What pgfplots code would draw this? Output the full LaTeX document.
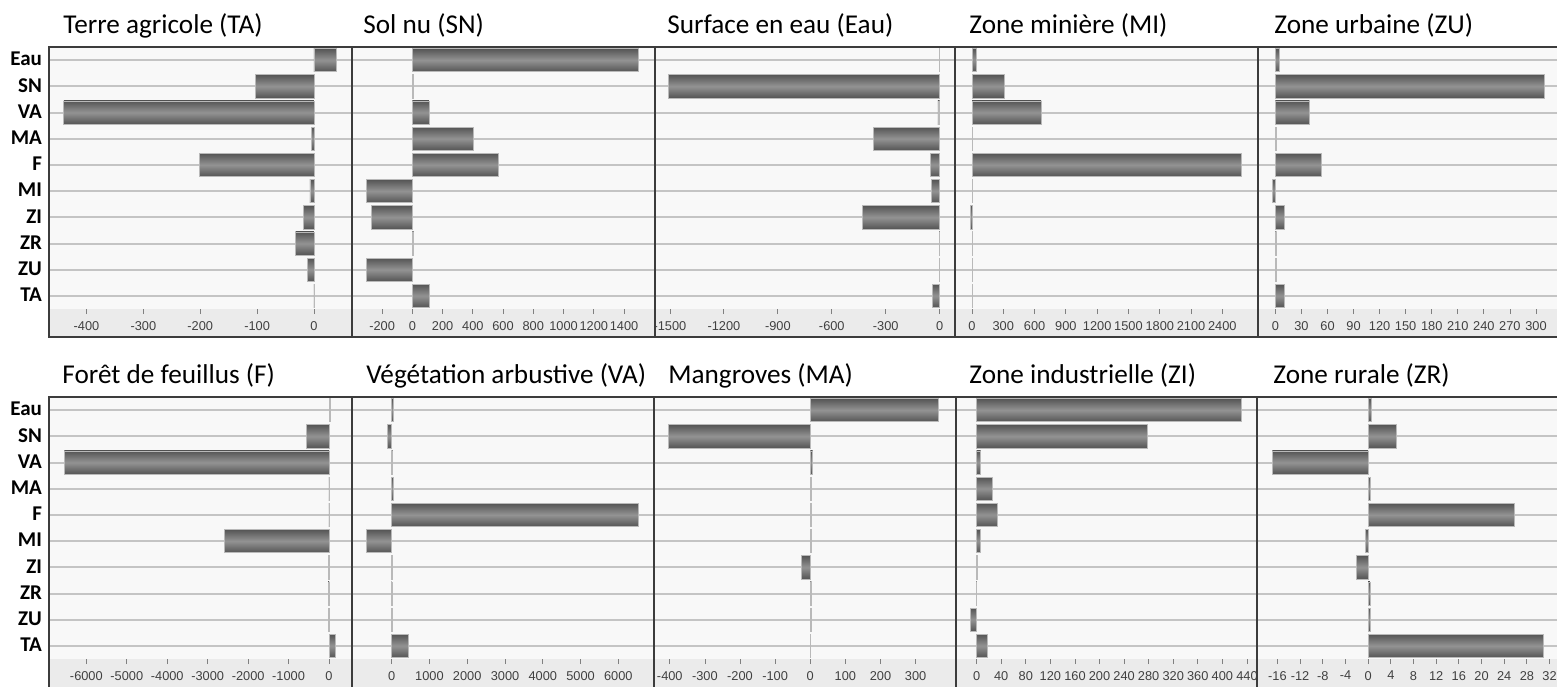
\documentclass[border=0pt]{standalone}
\usepackage{pgfplots}
\pgfplotsset{compat=1.18}
\usepackage{fontspec}
\setmainfont{Carlito}
\newfontfamily\tickfont{Liberation Sans}

\definecolor{plotbg}{HTML}{F8F8F8}
\definecolor{bandbg}{HTML}{EBEBEB}
\definecolor{gridgray}{HTML}{C4C4C4}
\definecolor{framecol}{HTML}{3C3C3C}
\definecolor{barDark}{HTML}{555555}
\definecolor{barLight}{HTML}{939393}
\definecolor{tickgray}{HTML}{404040}

\pgfplotsset{
  panel/.style={
    scale only axis, height=131pt, anchor=north west,
    xbar, bar width=0.88,
    y dir=reverse, ymin=-0.5, ymax=9.5, ytick={0,...,9},
    yticklabels={Eau,SN,VA,MA,F,MI,ZI,ZR,ZU,TA},
    ymajorgrids, grid style={line width=1pt, gridgray},
    major y tick style={draw=none},
    axis line style={draw=none},
    axis background/.style={fill=plotbg},
    xtick pos=left, tick align=outside, major tick length=2.5pt,
    major x tick style={gray, line width=0.4pt},
    xticklabel style={font=\tickfont\fontsize{6.4}{7}\selectfont, text=tickgray},
    yticklabel style={font=\bfseries\fontsize{10.5}{11}\selectfont,
      xshift=2.5pt, yshift=0.5pt},
    scaled x ticks=false,
    /pgf/number format/1000 sep={},
    /pgf/number format/assume math mode=true,
  },
  nolabels/.style={yticklabels={}},
  bars/.style={/pgf/bar shift=0pt, draw=gray!55, line width=0.3pt,
    top color=barDark, bottom color=barDark, middle color=barLight},
}
% one bar per plot, so that each bar gets its own shading
\newcommand{\hb}[2]{\addplot[bars] coordinates {(#1,#2)};}

\begin{document}
\begin{tikzpicture}
\useasboundingbox (0,0) rectangle (778.5pt,-343pt);

% tick label bands
\begin{scope}[x=0.5pt, y=-0.5pt]
  \fill[bandbg] (49,309) rectangle (1562,337);
  \fill[bandbg] (49,659) rectangle (1562,690);
\end{scope}

% ---- top row ----
% Terre agricole (TA)
\begin{axis}[panel, at={(24.5pt,-23.5pt)}, width=151.5pt,
    xmin=-466, xmax=67, xtick={-400,-300,...,0}]
  \hb{39}{0}\hb{-103}{1}\hb{-440}{2}\hb{-5}{3}\hb{-202}{4}
  \hb{-7}{5}\hb{-19}{6}\hb{-32}{7}\hb{-12}{8}\hb{1}{9}
\end{axis}
% Sol nu (SN)
\begin{axis}[panel, nolabels, at={(176pt,-23.5pt)}, width=151.5pt,
    xmin=-399, xmax=1605, xtick={-200,0,...,1400}]
  \hb{1495}{0}\hb{9}{1}\hb{110}{2}\hb{401}{3}\hb{571}{4}
  \hb{-302}{5}\hb{-273}{6}\hb{8}{7}\hb{-302}{8}\hb{110}{9}
\end{axis}
% Surface en eau (Eau)
\begin{axis}[panel, nolabels, at={(327.5pt,-23.5pt)}, width=150pt,
    xmin=-1583, xmax=85, xtick={-1500,-1200,...,0}]
  \hb{-3}{0}\hb{-1508}{1}\hb{-10}{2}\hb{-369}{3}\hb{-54}{4}
  \hb{-47}{5}\hb{-428}{6}\hb{-3}{7}\hb{-3}{8}\hb{-41}{9}
\end{axis}
% Zone miniere (MI)
\begin{axis}[panel, nolabels, at={(477.5pt,-23.5pt)}, width=151.5pt,
    xmin=-163, xmax=2742, xtick={0,300,...,2400}]
  \hb{38}{0}\hb{307}{1}\hb{662}{2}\hb{5}{3}\hb{2579}{4}
  \hb{3}{5}\hb{-12}{6}\hb{4}{7}\hb{4}{8}\hb{3}{9}
\end{axis}
% Zone urbaine (ZU)
\begin{axis}[panel, nolabels, at={(629pt,-23.5pt)}, width=152pt,
    xmin=-20, xmax=330, xtick={0,30,...,300}]
  \hb{5}{0}\hb{310}{1}\hb{39}{2}\hb{1}{3}\hb{53}{4}
  \hb{-3}{5}\hb{10}{6}\hb{1}{7}\hb{1}{8}\hb{10}{9}
\end{axis}

% ---- bottom row ----
% Foret de feuillus (F)
\begin{axis}[panel, at={(24.5pt,-198.5pt)}, width=151.5pt,
    xmin=-6924, xmax=569, xtick={-6000,-5000,...,0}]
  \hb{25}{0}\hb{-552}{1}\hb{-6545}{2}\hb{-5}{3}\hb{-5}{4}
  \hb{-2589}{5}\hb{-20}{6}\hb{-20}{7}\hb{-20}{8}\hb{148}{9}
\end{axis}
% Vegetation arbustive (VA)
\begin{axis}[panel, nolabels, at={(176pt,-198.5pt)}, width=151pt,
    xmin=-1051, xmax=6945, xtick={0,1000,...,6000}]
  \hb{30}{0}\hb{-106}{1}\hb{25}{2}\hb{30}{3}\hb{6529}{4}
  \hb{-662}{5}\hb{25}{6}\hb{5}{7}\hb{5}{8}\hb{432}{9}
\end{axis}
% Mangroves (MA)
\begin{axis}[panel, nolabels, at={(327pt,-198.5pt)}, width=151pt,
    xmin=-445, xmax=415, xtick={-400,-300,...,300}]
  \hb{366}{0}\hb{-403}{1}\hb{7}{2}\hb{4}{3}\hb{3}{4}
  \hb{3}{5}\hb{-25}{6}\hb{3}{7}\hb{3}{8}\hb{1}{9}
\end{axis}
% Zone industrielle (ZI)
\begin{axis}[panel, nolabels, at={(478.5pt,-198.5pt)}, width=150.5pt,
    xmin=-32, xmax=458, xtick={0,40,...,440}]
  \hb{430}{0}\hb{278}{1}\hb{6.5}{2}\hb{25}{3}\hb{33}{4}
  \hb{6.5}{5}\hb{1}{6}\hb{-1}{7}\hb{-10}{8}\hb{18}{9}
\end{axis}
% Zone rurale (ZR)
\begin{axis}[panel, nolabels, at={(628.5pt,-198.5pt)}, width=152.5pt,
    xmin=-19.6, xmax=34.2, xtick={-16,-12,...,32}]
  \hb{0.5}{0}\hb{4.9}{1}\hb{-16.9}{2}\hb{0.3}{3}\hb{25.8}{4}
  \hb{-0.5}{5}\hb{-2}{6}\hb{0.3}{7}\hb{0.3}{8}\hb{30.9}{9}
\end{axis}

% frames and titles
\begin{scope}[x=0.5pt, y=-0.5pt]
  \draw[framecol, line width=0.75pt]
    (49,47) rectangle (352,337) (352,47) rectangle (655,337)
    (655,47) rectangle (955,337) (955,47) rectangle (1258,337)
    (1258,47) rectangle (1562,337);
  \draw[framecol, line width=0.75pt]
    (49,397) rectangle (352,690) (352,397) rectangle (654,690)
    (654,397) rectangle (956,690) (956,397) rectangle (1257,690)
    (1257,397) rectangle (1562,690);
  \begin{scope}[every node/.style={anchor=base west, inner sep=0pt,
      font=\fontsize{13.6}{15}\selectfont}]
    \node at (63,33) {Terre agricole (TA)};
    \node at (363,33) {Sol nu (SN)};
    \node at (667,33) {Surface en eau (Eau)};
    \node at (969,33) {Zone minière (MI)};
    \node at (1274,33) {Zone urbaine (ZU)};
    \node at (62,383) {Forêt de feuillus (F)};
    \node at (366,383) {Végétation arbustive (VA)};
    \node at (668,383) {Mangroves (MA)};
    \node at (969,383) {Zone industrielle (ZI)};
    \node at (1273,383) {Zone rurale (ZR)};
  \end{scope}
\end{scope}
\end{tikzpicture}
\end{document}
